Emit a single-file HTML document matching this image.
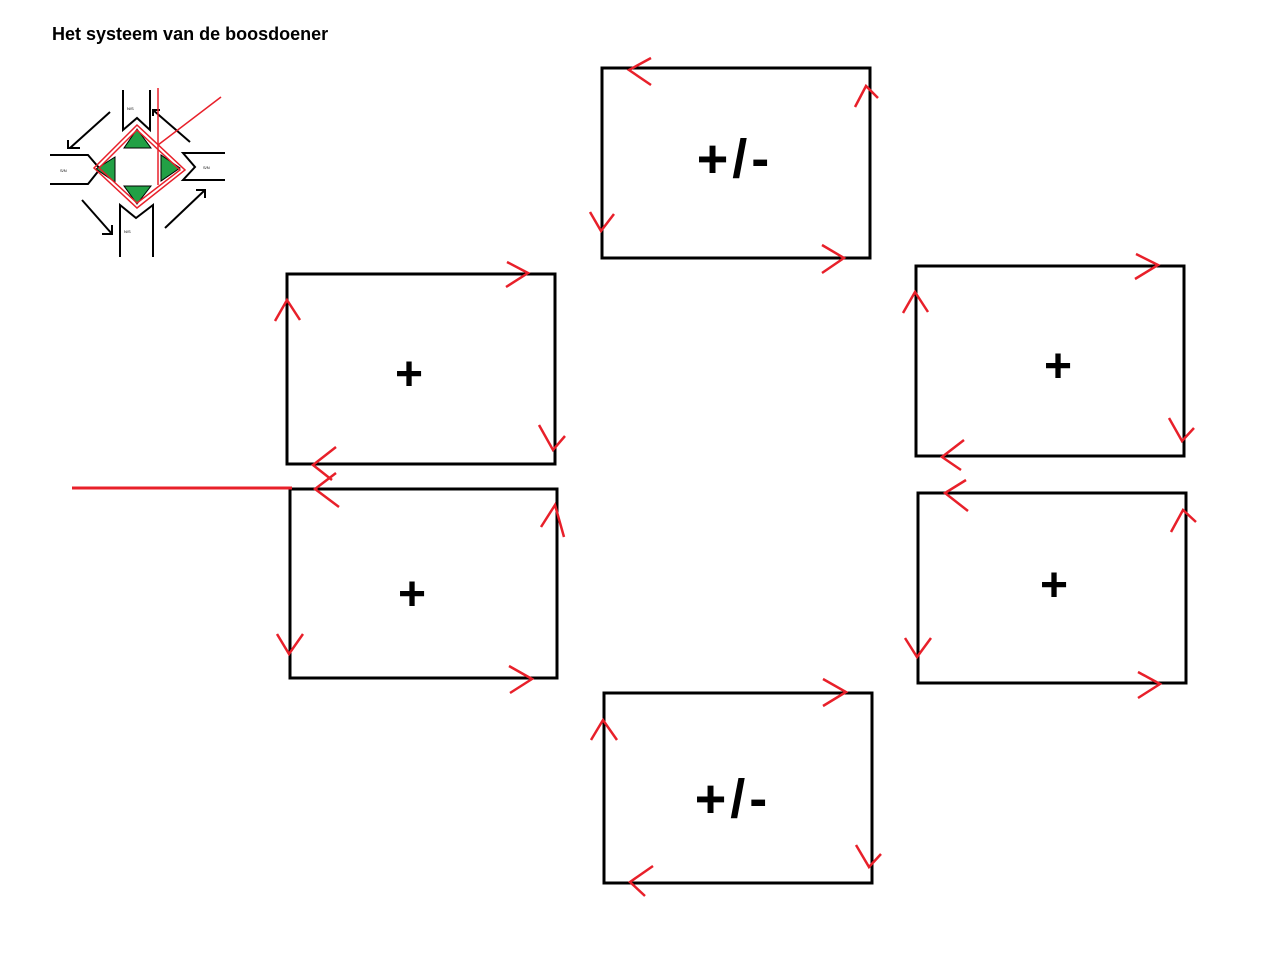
<!DOCTYPE html>
<html><head><style>
html,body{margin:0;padding:0;background:#fff;width:1278px;height:968px;overflow:hidden}
svg{position:absolute;left:0;top:0}
</style></head><body>
<svg width="1278" height="968" viewBox="0 0 1278 968" font-family="Liberation Sans, sans-serif">
<text x="52" y="40" font-size="18" font-weight="bold" fill="#000">Het systeem van de boosdoener</text>

<!-- small diagram -->
<g stroke="#000" stroke-width="2" fill="none">
<polyline points="123,90 123,130 137,118 150,130 150,90"/>
<polyline points="120,257 120,205 136,218 153,205 153,257"/>
<polyline points="50,155 88,155 100,169 88,184 50,184"/>
<polyline points="225,153 183,153 195,167 183,180 225,180"/>
<line x1="110" y1="112" x2="70" y2="148"/><polyline points="68,140 68,148 80,148"/>
<line x1="190" y1="142" x2="153" y2="110"/><polyline points="153,116 153,110 160,110"/>
<line x1="82" y1="200" x2="112" y2="234"/><polyline points="102,234 112,234 112,225"/>
<line x1="165" y1="228" x2="205" y2="190"/><polyline points="196,190 205,190 205,198"/>
</g>
<g fill="#22a045" stroke="#000" stroke-width="1">
<polygon points="137,129 124,148 151,148"/>
<polygon points="124,186 151,186 137,204"/>
<polygon points="96,169 115,157 115,182"/>
<polygon points="161,155 161,181 180,168"/>
</g>
<g stroke="#e8202a" stroke-width="1.5" fill="none">
<polygon points="137,125 185,170 137,208 94,168"/>
<polygon points="137,130 180,170 137,203 99,168"/>
<line x1="158" y1="88" x2="158" y2="185"/>
<line x1="158" y1="145" x2="221" y2="97"/>
</g>
<g font-size="4" fill="#000">
<text x="127" y="110">N/S</text><text x="60" y="172">S/N</text><text x="203" y="169">S/N</text><text x="124" y="233">N/S</text>
</g>

<!-- boxes -->
<g stroke="#000" stroke-width="3" fill="none">
<rect x="602" y="68" width="268" height="190"/>
<rect x="287" y="274" width="268" height="190"/>
<rect x="916" y="266" width="268" height="190"/>
<rect x="290" y="489" width="267" height="189"/>
<rect x="918" y="493" width="268" height="190"/>
<rect x="604" y="693" width="268" height="190"/>
</g>
<g font-size="54" font-weight="bold" fill="#000" text-anchor="middle" letter-spacing="4">
<text x="735" y="177">+/-</text>
<text x="733" y="817">+/-</text>
</g>
<g font-size="48" font-weight="bold" fill="#000" text-anchor="middle">
<text x="409" y="390">+</text>
<text x="1058" y="382">+</text>
<text x="412" y="610">+</text>
<text x="1054" y="601">+</text>
</g>

<line x1="72" y1="488" x2="292" y2="488" stroke="#e8202a" stroke-width="3"/>

<g stroke="#e8202a" stroke-width="2.5" fill="none">
<polyline points="651,58 629,70 651,85"/>
<polyline points="855,107 866,86 878,98"/>
<polyline points="590,212 601,231 614,214"/>
<polyline points="822,245 844,258 822,273"/>
<polyline points="507,262 528,273 506,287"/>
<polyline points="275,321 287,300 300,320"/>
<polyline points="336,447 313,465 332,480"/>
<polyline points="539,425 553,450 565,436"/>
<polyline points="1136,254 1158,265 1135,279"/>
<polyline points="903,313 915,292 928,312"/>
<polyline points="964,440 942,457 961,470"/>
<polyline points="1169,418 1182,441 1194,428"/>
<polyline points="336,473 315,489 339,507"/>
<polyline points="541,527 555,505 564,537"/>
<polyline points="277,634 289,654 303,634"/>
<polyline points="509,666 532,679 510,693"/>
<polyline points="966,480 945,493 968,511"/>
<polyline points="1171,532 1183,510 1196,522"/>
<polyline points="905,638 917,657 931,638"/>
<polyline points="1138,672 1160,684 1138,698"/>
<polyline points="823,679 846,692 823,706"/>
<polyline points="591,740 603,720 617,740"/>
<polyline points="653,866 630,882 645,896"/>
<polyline points="856,845 869,867 881,854"/>
</g>
</svg>
</body></html>
